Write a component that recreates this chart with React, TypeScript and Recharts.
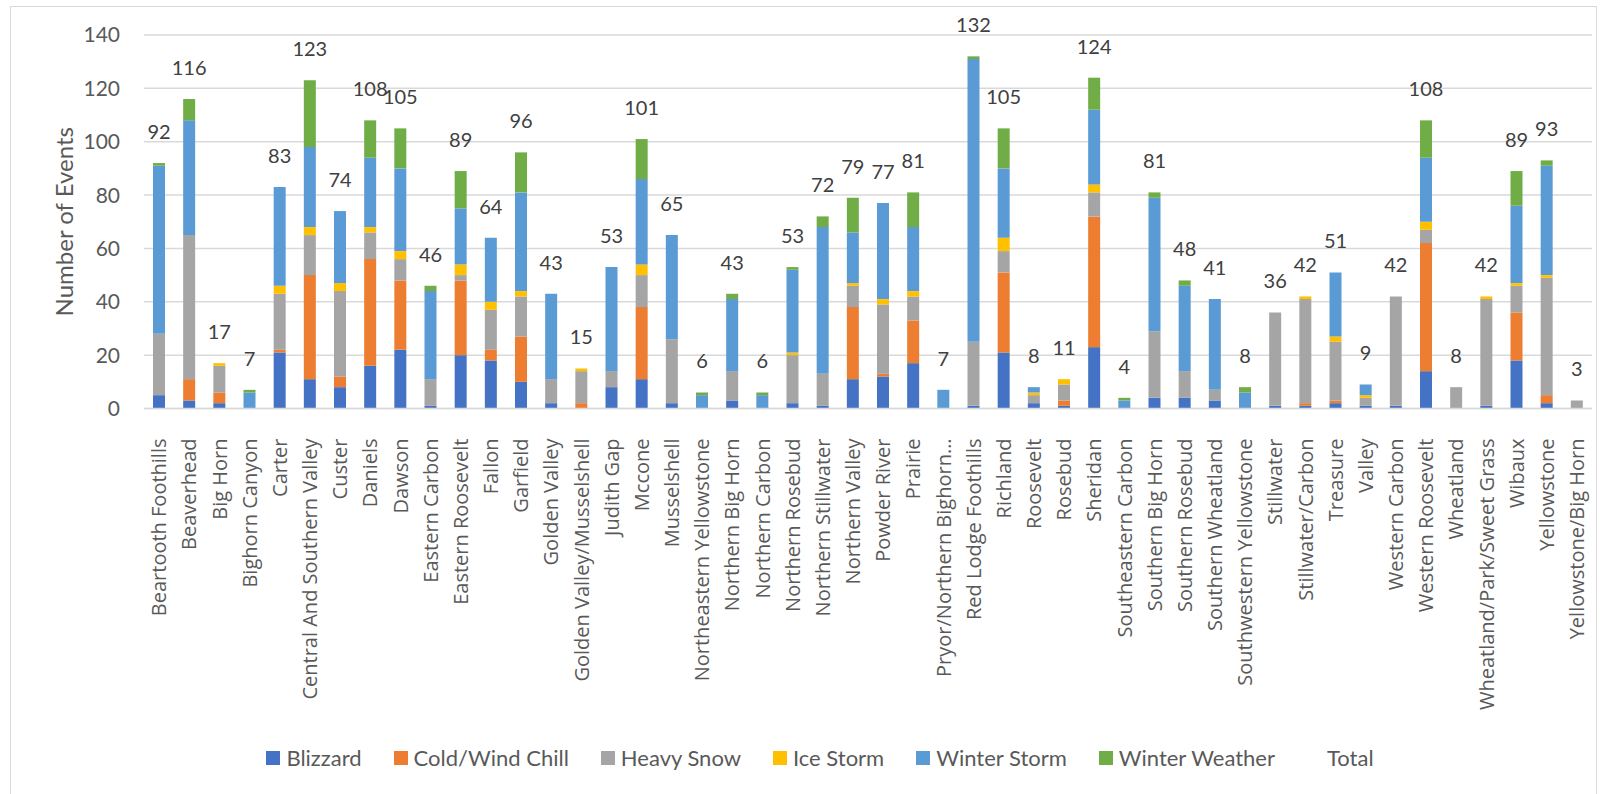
import { Bar, BarChart, CartesianGrid, LabelList, XAxis, YAxis } from 'recharts';

const categories = [
  'Beartooth Foothills', 'Beaverhead', 'Big Horn', 'Bighorn Canyon', 'Carter', 'Central And Southern Valley',
  'Custer', 'Daniels', 'Dawson', 'Eastern Carbon', 'Eastern Roosevelt', 'Fallon', 'Garfield', 'Golden Valley',
  'Golden Valley/Musselshell', 'Judith Gap', 'Mccone', 'Musselshell', 'Northeastern Yellowstone',
  'Northern Big Horn', 'Northern Carbon', 'Northern Rosebud', 'Northern Stillwater', 'Northern Valley',
  'Powder River', 'Prairie', 'Pryor/Northern Bighorn…', 'Red Lodge Foothills', 'Richland', 'Roosevelt',
  'Rosebud', 'Sheridan', 'Southeastern Carbon', 'Southern Big Horn', 'Southern Rosebud', 'Southern Wheatland',
  'Southwestern Yellowstone', 'Stillwater', 'Stillwater/Carbon', 'Treasure', 'Valley', 'Western Carbon',
  'Western Roosevelt', 'Wheatland', 'Wheatland/Park/Sweet Grass', 'Wibaux', 'Yellowstone', 'Yellowstone/Big Horn',
];

const blizzard = [5, 3, 2, 0, 21, 11, 8, 16, 22, 1, 20, 18, 10, 2, 0, 8, 11, 2, 0, 3, 0, 2, 1, 11, 12, 17, 0, 1, 21, 2, 1, 23, 0, 4, 4, 3, 0, 1, 1, 2, 1, 1, 14, 0, 1, 18, 2, 0];
const coldWindChill = [0, 8, 4, 0, 1, 39, 4, 40, 26, 0, 28, 4, 17, 0, 2, 0, 27, 0, 0, 0, 0, 0, 0, 27, 1, 16, 0, 0, 30, 0, 2, 49, 0, 0, 0, 0, 0, 0, 1, 1, 0, 0, 48, 0, 0, 18, 3, 0];
const heavySnow = [23, 54, 10, 0, 21, 15, 32, 10, 8, 10, 2, 15, 15, 9, 12, 6, 12, 24, 0, 11, 0, 18, 12, 8, 26, 9, 0, 24, 8, 3, 6, 9, 0, 25, 10, 4, 0, 35, 39, 22, 3, 41, 5, 8, 40, 10, 44, 3];
const iceStorm = [0, 0, 1, 0, 3, 3, 3, 2, 3, 0, 4, 3, 2, 0, 1, 0, 4, 0, 0, 0, 0, 1, 0, 1, 2, 2, 0, 0, 5, 1, 2, 3, 0, 0, 0, 0, 0, 0, 1, 2, 1, 0, 3, 0, 1, 1, 1, 0];
const winterStorm = [63, 43, 0, 6, 37, 30, 27, 26, 31, 33, 21, 24, 37, 32, 0, 39, 32, 39, 5, 27, 5, 31, 55, 19, 36, 24, 7, 106, 26, 2, 0, 28, 3, 50, 32, 34, 6, 0, 0, 24, 4, 0, 24, 0, 0, 29, 41, 0];
const winterWeather = [1, 8, 0, 1, 0, 25, 0, 14, 15, 2, 14, 0, 15, 0, 0, 0, 15, 0, 1, 2, 1, 1, 4, 13, 0, 13, 0, 1, 15, 0, 0, 12, 1, 2, 2, 0, 2, 0, 0, 0, 0, 0, 14, 0, 0, 13, 2, 0];
const totals = [92, 116, 17, 7, 83, 123, 74, 108, 105, 46, 89, 64, 96, 43, 15, 53, 101, 65, 6, 43, 6, 53, 72, 79, 77, 81, 7, 132, 105, 8, 11, 124, 4, 81, 48, 41, 8, 36, 42, 51, 9, 42, 108, 8, 42, 89, 93, 3];
const yTicks = [0, 20, 40, 60, 80, 100, 120, 140];

const series = [
  { key: 'blizzard', name: 'Blizzard', color: '#4472C4', values: blizzard },
  { key: 'cold', name: 'Cold/Wind Chill', color: '#ED7D31', values: coldWindChill },
  { key: 'heavy', name: 'Heavy Snow', color: '#A5A5A5', values: heavySnow },
  { key: 'ice', name: 'Ice Storm', color: '#FFC000', values: iceStorm },
  { key: 'storm', name: 'Winter Storm', color: '#5B9BD5', values: winterStorm },
  { key: 'weather', name: 'Winter Weather', color: '#70AD47', values: winterWeather },
];

// total label sits on the highest non-empty segment of each stack
const data = categories.map((name, i) => {
  const row: Record<string, string | number> = { name, total: totals[i] };
  let top = series[0].key;
  series.forEach((s) => {
    row[s.key] = s.values[i];
    if (s.values[i] > 0) top = s.key;
  });
  row.top = top;
  return row;
});

const text = '#595959';

function CategoryTick({ x, y, payload }: any) {
  const ty = y + 8;
  return (
    <text x={x} y={ty} dy="0.36em" transform={`rotate(-90 ${x} ${ty})`} textAnchor="end"
      fill={text} fontSize={20} fontFamily="'Open Sans', sans-serif">
      {payload.value}
    </text>
  );
}

function YTitle({ viewBox }: any) {
  const cy = viewBox.y + viewBox.height / 2;
  return (
    <text x={63} y={cy} transform={`rotate(-90 63 ${cy})`} textAnchor="middle" dominantBaseline="central"
      fill={text} fontSize={24} fontFamily="Lato, sans-serif">
      Number of Events
    </text>
  );
}

function LegendRow() {
  const items = [...series.map((s) => ({ name: s.name, color: s.color })), { name: 'Total', color: 'transparent' }];
  return (
    <div style={{ position: 'absolute', left: 0, top: 745, width: 1640, display: 'flex', justifyContent: 'center', gap: 32 }}>
      {items.map((it) => (
        <div key={it.name} style={{ display: 'flex', alignItems: 'center', gap: 6 }}>
          <span style={{ width: 14, height: 14, background: it.color, display: 'inline-block' }} />
          <span style={{ fontFamily: 'Lato, sans-serif', fontSize: 22, color: text, lineHeight: '26px' }}>{it.name}</span>
        </div>
      ))}
    </div>
  );
}

export default function App() {
  return (
    <div style={{ position: 'absolute', left: 0, top: 0, width: 1606, height: 794, overflow: 'hidden', background: '#fff' }}>
      <div style={{ position: 'absolute', left: 10, top: 6, width: 1585, height: 820, border: '1.5px solid #d9d9d9' }} />
      <BarChart width={1606} height={794} data={data} margin={{ top: 35, right: 14, left: 0, bottom: 0 }} barSize={12}>
        <CartesianGrid vertical={false} stroke="#d9d9d9" strokeWidth={1.5} />
        <XAxis dataKey="name" interval={0} height={385.5} tickLine={false} tickSize={0} tickMargin={22}
          axisLine={{ stroke: '#d9d9d9', strokeWidth: 1.5 }} tick={<CategoryTick />} />
        <YAxis domain={[0, 140]} ticks={yTicks} width={144} axisLine={false} tickLine={false} tickSize={0} tickMargin={24}
          tick={{ fill: text, fontSize: 21, fontFamily: 'Lato, sans-serif' }} label={<YTitle />} />
        {series.map((s) => (
          <Bar key={s.key} dataKey={s.key} name={s.name} stackId="a" fill={s.color} isAnimationActive={false}>
            <LabelList
              position="top" offset={24} fill="#404040" fontSize={20} fontFamily="Lato, sans-serif"
              valueAccessor={(entry: any) => {
                const row = entry?.payload;
                return row && row.top === s.key ? row.total : null;
              }}
            />
          </Bar>
        ))}
      </BarChart>
      <LegendRow />
    </div>
  );
}
